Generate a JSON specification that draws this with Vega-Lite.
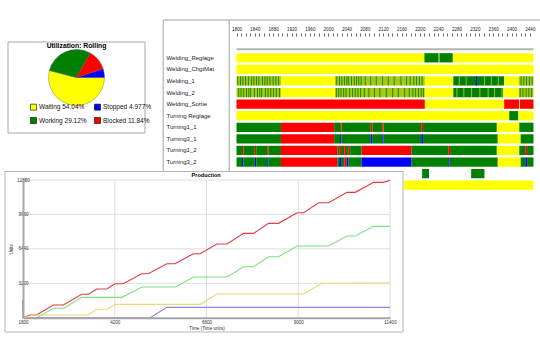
{
"$schema": "https://vega.github.io/schema/vega-lite/v6.json",
"width": 540, "height": 350, "autosize": "none", "padding": 0, "background": "white",
"config": {"view": {"stroke": null}, "font": "Liberation Sans", "axis": {"labelOverlap": false}},
"datasets": {
"pie": [
{"label": "Waiting 54.04%", "share": 54.04, "seq": 4},
{"label": "Stopped 4.977%", "share": 4.977, "seq": 1},
{"label": "Working 29.12%", "share": 29.12, "seq": 3},
{"label": "Blocked 11.84%", "share": 11.84, "seq": 2}
],
"gantt": [
{"row":"Welding_Reglage","state":"Waiting","start":1800,"end":2210},
{"row":"Welding_Reglage","state":"Working","start":2210,"end":2241},
{"row":"Welding_Reglage","state":"Mixed","start":2241,"end":2243},
{"row":"Welding_Reglage","state":"Working","start":2243,"end":2272},
{"row":"Welding_Reglage","state":"Waiting","start":2272,"end":2448},
{"row":"Welding_ChgtMat","state":"Waiting","start":1800,"end":2448},
{"row":"Welding_1","state":"Mixed","start":1800,"end":1897},
{"row":"Welding_1","state":"Waiting","start":1897,"end":2015},
{"row":"Welding_1","state":"Mixed","start":2015,"end":2211},
{"row":"Welding_1","state":"Waiting","start":2211,"end":2273},
{"row":"Welding_1","state":"Working","start":2273,"end":2384},
{"row":"Welding_1","state":"Waiting","start":2384,"end":2416},
{"row":"Welding_1","state":"Mixed","start":2416,"end":2448},
{"row":"Welding_2","state":"Mixed","start":1800,"end":1897},
{"row":"Welding_2","state":"Waiting","start":1897,"end":2015},
{"row":"Welding_2","state":"Mixed","start":2015,"end":2211},
{"row":"Welding_2","state":"Waiting","start":2211,"end":2273},
{"row":"Welding_2","state":"Working","start":2273,"end":2382},
{"row":"Welding_2","state":"Waiting","start":2382,"end":2416},
{"row":"Welding_2","state":"Mixed","start":2416,"end":2448},
{"row":"Welding_Sortie","state":"Blocked","start":1800,"end":2211},
{"row":"Welding_Sortie","state":"Waiting","start":2211,"end":2384},
{"row":"Welding_Sortie","state":"Blocked","start":2384,"end":2417},
{"row":"Welding_Sortie","state":"Waiting","start":2417,"end":2418.5},
{"row":"Welding_Sortie","state":"Blocked","start":2418.5,"end":2448},
{"row":"Turning Reglage","state":"Waiting","start":1800,"end":2395},
{"row":"Turning Reglage","state":"Working","start":2395,"end":2415},
{"row":"Turning Reglage","state":"Waiting","start":2415,"end":2448},
{"row":"Turning1_1","state":"Working","start":1800,"end":1897},
{"row":"Turning1_1","state":"Blocked","start":1897,"end":2013},
{"row":"Turning1_1","state":"Working","start":2013,"end":2026},
{"row":"Turning1_1","state":"Blocked","start":2026,"end":2029},
{"row":"Turning1_1","state":"Working","start":2029,"end":2093},
{"row":"Turning1_1","state":"Blocked","start":2093,"end":2097},
{"row":"Turning1_1","state":"Working","start":2097,"end":2118},
{"row":"Turning1_1","state":"Blocked","start":2118,"end":2121},
{"row":"Turning1_1","state":"Working","start":2121,"end":2203},
{"row":"Turning1_1","state":"Blocked","start":2203,"end":2207},
{"row":"Turning1_1","state":"Working","start":2207,"end":2368},
{"row":"Turning1_1","state":"Waiting","start":2368,"end":2417},
{"row":"Turning1_1","state":"Working","start":2417,"end":2448},
{"row":"Turning3_1","state":"Working","start":1800,"end":1897},
{"row":"Turning3_1","state":"Blocked","start":1897,"end":2013},
{"row":"Turning3_1","state":"Working","start":2013,"end":2026},
{"row":"Turning3_1","state":"Stopped","start":2026,"end":2029},
{"row":"Turning3_1","state":"Working","start":2029,"end":2093},
{"row":"Turning3_1","state":"Stopped","start":2093,"end":2097},
{"row":"Turning3_1","state":"Working","start":2097,"end":2118},
{"row":"Turning3_1","state":"Stopped","start":2118,"end":2121},
{"row":"Turning3_1","state":"Working","start":2121,"end":2203},
{"row":"Turning3_1","state":"Stopped","start":2203,"end":2207},
{"row":"Turning3_1","state":"Working","start":2207,"end":2370},
{"row":"Turning3_1","state":"Waiting","start":2370,"end":2420},
{"row":"Turning3_1","state":"Working","start":2420,"end":2448},
{"row":"Turning1_2","state":"Working","start":1800,"end":1812},
{"row":"Turning1_2","state":"Blocked","start":1812,"end":1815},
{"row":"Turning1_2","state":"Working","start":1815,"end":1840},
{"row":"Turning1_2","state":"Blocked","start":1840,"end":1843},
{"row":"Turning1_2","state":"Working","start":1843,"end":1867},
{"row":"Turning1_2","state":"Blocked","start":1867,"end":1870},
{"row":"Turning1_2","state":"Working","start":1870,"end":1897},
{"row":"Turning1_2","state":"Blocked","start":1897,"end":2020},
{"row":"Turning1_2","state":"Working","start":2020,"end":2024},
{"row":"Turning1_2","state":"Blocked","start":2024,"end":2028},
{"row":"Turning1_2","state":"Working","start":2028,"end":2035},
{"row":"Turning1_2","state":"Blocked","start":2035,"end":2039},
{"row":"Turning1_2","state":"Working","start":2039,"end":2045},
{"row":"Turning1_2","state":"Blocked","start":2045,"end":2048},
{"row":"Turning1_2","state":"Working","start":2048,"end":2073},
{"row":"Turning1_2","state":"Blocked","start":2073,"end":2182},
{"row":"Turning1_2","state":"Working","start":2182,"end":2262},
{"row":"Turning1_2","state":"Blocked","start":2262,"end":2266},
{"row":"Turning1_2","state":"Working","start":2266,"end":2368},
{"row":"Turning1_2","state":"Waiting","start":2368,"end":2417},
{"row":"Turning1_2","state":"Working","start":2417,"end":2430},
{"row":"Turning1_2","state":"Blocked","start":2430,"end":2434},
{"row":"Turning1_2","state":"Working","start":2434,"end":2448},
{"row":"Turning3_2","state":"Working","start":1800,"end":1812},
{"row":"Turning3_2","state":"Stopped","start":1812,"end":1815},
{"row":"Turning3_2","state":"Working","start":1815,"end":1840},
{"row":"Turning3_2","state":"Stopped","start":1840,"end":1843},
{"row":"Turning3_2","state":"Working","start":1843,"end":1867},
{"row":"Turning3_2","state":"Stopped","start":1867,"end":1870},
{"row":"Turning3_2","state":"Working","start":1870,"end":1897},
{"row":"Turning3_2","state":"Blocked","start":1897,"end":2020},
{"row":"Turning3_2","state":"Working","start":2020,"end":2024},
{"row":"Turning3_2","state":"Stopped","start":2024,"end":2028},
{"row":"Turning3_2","state":"Working","start":2028,"end":2035},
{"row":"Turning3_2","state":"Blocked","start":2035,"end":2040},
{"row":"Turning3_2","state":"Stopped","start":2040,"end":2044},
{"row":"Turning3_2","state":"Working","start":2044,"end":2073},
{"row":"Turning3_2","state":"Stopped","start":2073,"end":2182},
{"row":"Turning3_2","state":"Working","start":2182,"end":2262},
{"row":"Turning3_2","state":"Stopped","start":2262,"end":2265},
{"row":"Turning3_2","state":"Working","start":2265,"end":2370},
{"row":"Turning3_2","state":"Waiting","start":2370,"end":2420},
{"row":"Turning3_2","state":"Working","start":2420,"end":2430},
{"row":"Turning3_2","state":"Stopped","start":2430,"end":2434},
{"row":"Turning3_2","state":"Working","start":2434,"end":2448},
{"row":"Turning_Sortie","state":"Working","start":2205,"end":2220},
{"row":"Turning_Sortie","state":"Working","start":2312,"end":2341},
{"row":"Turning_Evac","state":"Waiting","start":2166,"end":2448},
{"row":"Welding_1","state":"Working","start":1802,"end":1803.8},
{"row":"Welding_1","state":"Working","start":1808,"end":1809.8},
{"row":"Welding_1","state":"Working","start":1813,"end":1814.8},
{"row":"Welding_1","state":"Working","start":1819,"end":1820.8},
{"row":"Welding_1","state":"Working","start":1825,"end":1826.8},
{"row":"Welding_1","state":"Working","start":1832,"end":1833.8},
{"row":"Welding_1","state":"Working","start":1837,"end":1838.8},
{"row":"Welding_1","state":"Working","start":1843,"end":1844.8},
{"row":"Welding_1","state":"Working","start":1848,"end":1849.8},
{"row":"Welding_1","state":"Working","start":1856,"end":1857.8},
{"row":"Welding_1","state":"Working","start":1861,"end":1862.8},
{"row":"Welding_1","state":"Working","start":1866,"end":1867.8},
{"row":"Welding_1","state":"Working","start":1872,"end":1873.8},
{"row":"Welding_1","state":"Working","start":1879,"end":1880.8},
{"row":"Welding_1","state":"Working","start":1885,"end":1886.8},
{"row":"Welding_1","state":"Working","start":1891,"end":1892.8},
{"row":"Welding_2","state":"Working","start":1804,"end":1805.8},
{"row":"Welding_2","state":"Working","start":1809,"end":1810.8},
{"row":"Welding_2","state":"Working","start":1815,"end":1816.8},
{"row":"Welding_2","state":"Working","start":1821,"end":1822.8},
{"row":"Welding_2","state":"Working","start":1826,"end":1827.8},
{"row":"Welding_2","state":"Working","start":1830,"end":1831.8},
{"row":"Welding_2","state":"Working","start":1838,"end":1839.8},
{"row":"Welding_2","state":"Working","start":1845,"end":1846.8},
{"row":"Welding_2","state":"Working","start":1850,"end":1851.8},
{"row":"Welding_2","state":"Working","start":1854,"end":1855.8},
{"row":"Welding_2","state":"Working","start":1862,"end":1863.8},
{"row":"Welding_2","state":"Working","start":1868,"end":1869.8},
{"row":"Welding_2","state":"Working","start":1874,"end":1875.8},
{"row":"Welding_2","state":"Working","start":1880,"end":1881.8},
{"row":"Welding_2","state":"Working","start":1886,"end":1887.8},
{"row":"Welding_2","state":"Working","start":1893,"end":1894.8},
{"row":"Welding_1","state":"Working","start":2018,"end":2019.8},
{"row":"Welding_1","state":"Working","start":2024,"end":2025.8},
{"row":"Welding_1","state":"Working","start":2029,"end":2030.8},
{"row":"Welding_1","state":"Working","start":2035,"end":2036.8},
{"row":"Welding_1","state":"Working","start":2040,"end":2041.8},
{"row":"Welding_1","state":"Working","start":2044,"end":2045.8},
{"row":"Welding_1","state":"Working","start":2050,"end":2051.8},
{"row":"Welding_1","state":"Working","start":2056,"end":2057.8},
{"row":"Welding_1","state":"Working","start":2061,"end":2062.8},
{"row":"Welding_1","state":"Working","start":2066,"end":2067.8},
{"row":"Welding_1","state":"Working","start":2071,"end":2072.8},
{"row":"Welding_1","state":"Working","start":2080,"end":2081.8},
{"row":"Welding_1","state":"Working","start":2092,"end":2093.8},
{"row":"Welding_1","state":"Working","start":2104,"end":2105.8},
{"row":"Welding_1","state":"Working","start":2118,"end":2119.8},
{"row":"Welding_1","state":"Working","start":2130,"end":2131.8},
{"row":"Welding_1","state":"Working","start":2143,"end":2144.8},
{"row":"Welding_1","state":"Working","start":2158,"end":2159.8},
{"row":"Welding_1","state":"Working","start":2170,"end":2171.8},
{"row":"Welding_1","state":"Working","start":2178,"end":2179.8},
{"row":"Welding_1","state":"Working","start":2186,"end":2187.8},
{"row":"Welding_1","state":"Working","start":2192,"end":2193.8},
{"row":"Welding_1","state":"Working","start":2198,"end":2199.8},
{"row":"Welding_1","state":"Working","start":2204,"end":2205.8},
{"row":"Welding_2","state":"Working","start":2017,"end":2018.8},
{"row":"Welding_2","state":"Working","start":2022,"end":2023.8},
{"row":"Welding_2","state":"Working","start":2027,"end":2028.8},
{"row":"Welding_2","state":"Working","start":2033,"end":2034.8},
{"row":"Welding_2","state":"Working","start":2038,"end":2039.8},
{"row":"Welding_2","state":"Working","start":2046,"end":2047.8},
{"row":"Welding_2","state":"Working","start":2052,"end":2053.8},
{"row":"Welding_2","state":"Working","start":2058,"end":2059.8},
{"row":"Welding_2","state":"Working","start":2064,"end":2065.8},
{"row":"Welding_2","state":"Working","start":2070,"end":2071.8},
{"row":"Welding_2","state":"Working","start":2078,"end":2079.8},
{"row":"Welding_2","state":"Working","start":2088,"end":2089.8},
{"row":"Welding_2","state":"Working","start":2100,"end":2101.8},
{"row":"Welding_2","state":"Working","start":2112,"end":2113.8},
{"row":"Welding_2","state":"Working","start":2126,"end":2127.8},
{"row":"Welding_2","state":"Working","start":2140,"end":2141.8},
{"row":"Welding_2","state":"Working","start":2152,"end":2153.8},
{"row":"Welding_2","state":"Working","start":2166,"end":2167.8},
{"row":"Welding_2","state":"Working","start":2176,"end":2177.8},
{"row":"Welding_2","state":"Working","start":2184,"end":2185.8},
{"row":"Welding_2","state":"Working","start":2190,"end":2191.8},
{"row":"Welding_2","state":"Working","start":2196,"end":2197.8},
{"row":"Welding_2","state":"Working","start":2202,"end":2203.8},
{"row":"Welding_2","state":"Working","start":2207,"end":2208.8},
{"row":"Welding_1","state":"Mixed","start":2285,"end":2287},
{"row":"Welding_1","state":"Mixed","start":2300,"end":2302},
{"row":"Welding_1","state":"Stopped","start":2322,"end":2325},
{"row":"Welding_1","state":"Mixed","start":2340,"end":2342},
{"row":"Welding_1","state":"Mixed","start":2355,"end":2357},
{"row":"Welding_1","state":"Mixed","start":2370,"end":2372},
{"row":"Welding_2","state":"Mixed","start":2280,"end":2282},
{"row":"Welding_2","state":"Mixed","start":2295,"end":2297},
{"row":"Welding_2","state":"Mixed","start":2312,"end":2314},
{"row":"Welding_2","state":"Mixed","start":2330,"end":2332},
{"row":"Welding_2","state":"Mixed","start":2348,"end":2350},
{"row":"Welding_2","state":"Mixed","start":2362,"end":2364},
{"row":"Welding_2","state":"Mixed","start":2378,"end":2380},
{"row":"Welding_1","state":"Working","start":2420,"end":2421.8},
{"row":"Welding_1","state":"Working","start":2426,"end":2427.8},
{"row":"Welding_1","state":"Working","start":2432,"end":2433.8},
{"row":"Welding_1","state":"Working","start":2438,"end":2439.8},
{"row":"Welding_1","state":"Working","start":2444,"end":2445.8},
{"row":"Welding_2","state":"Working","start":2418,"end":2419.8},
{"row":"Welding_2","state":"Working","start":2424,"end":2425.8},
{"row":"Welding_2","state":"Working","start":2431,"end":2432.8},
{"row":"Welding_2","state":"Working","start":2437,"end":2438.8},
{"row":"Welding_2","state":"Working","start":2443,"end":2444.8}
],
"prod": [
{"series":"A","i":0,"time":1800,"units":1630},
{"series":"A","i":1,"time":1800,"units":0},
{"series":"A","i":2,"time":1991,"units":250},
{"series":"A","i":3,"time":2158,"units":250},
{"series":"A","i":4,"time":2593,"units":1190},
{"series":"A","i":5,"time":2855,"units":1190},
{"series":"A","i":6,"time":3336,"units":2190},
{"series":"A","i":7,"time":3510,"units":2190},
{"series":"A","i":8,"time":3728,"units":2680},
{"series":"A","i":9,"time":3990,"units":2680},
{"series":"A","i":10,"time":4207,"units":3180},
{"series":"A","i":11,"time":4425,"units":3180},
{"series":"A","i":12,"time":4905,"units":4115},
{"series":"A","i":13,"time":5080,"units":4115},
{"series":"A","i":14,"time":5560,"units":5050},
{"series":"A","i":15,"time":5777,"units":5050},
{"series":"A","i":16,"time":6256,"units":5985},
{"series":"A","i":17,"time":6430,"units":5985},
{"series":"A","i":18,"time":6875,"units":6890},
{"series":"A","i":19,"time":7137,"units":6890},
{"series":"A","i":20,"time":7571,"units":7890},
{"series":"A","i":21,"time":7833,"units":7890},
{"series":"A","i":22,"time":8225,"units":8826},
{"series":"A","i":23,"time":8487,"units":8826},
{"series":"A","i":24,"time":8968,"units":9818},
{"series":"A","i":25,"time":9141,"units":9818},
{"series":"A","i":26,"time":9533,"units":10753},
{"series":"A","i":27,"time":9795,"units":10753},
{"series":"A","i":28,"time":10276,"units":11725},
{"series":"A","i":29,"time":10493,"units":11725},
{"series":"A","i":30,"time":10972,"units":12660},
{"series":"A","i":31,"time":11233,"units":12660},
{"series":"A","i":32,"time":11400,"units":12850},
{"series":"B","i":0,"time":1800,"units":0},
{"series":"B","i":1,"time":2166,"units":0},
{"series":"B","i":2,"time":2601,"units":877},
{"series":"B","i":3,"time":2862,"units":877},
{"series":"B","i":4,"time":3343,"units":1905},
{"series":"B","i":5,"time":4390,"units":1905},
{"series":"B","i":6,"time":4913,"units":2870},
{"series":"B","i":7,"time":5784,"units":2870},
{"series":"B","i":8,"time":6263,"units":3805},
{"series":"B","i":9,"time":7137,"units":3805},
{"series":"B","i":10,"time":7571,"units":4770},
{"series":"B","i":11,"time":7833,"units":4770},
{"series":"B","i":12,"time":8225,"units":5705},
{"series":"B","i":13,"time":8487,"units":5705},
{"series":"B","i":14,"time":8968,"units":6705},
{"series":"B","i":15,"time":9795,"units":6705},
{"series":"B","i":16,"time":10276,"units":7640},
{"series":"B","i":17,"time":10493,"units":7640},
{"series":"B","i":18,"time":10972,"units":8545},
{"series":"B","i":19,"time":11400,"units":8545},
{"series":"C","i":0,"time":1800,"units":0},
{"series":"C","i":1,"time":2100,"units":250},
{"series":"C","i":2,"time":3510,"units":250},
{"series":"C","i":3,"time":3728,"units":785},
{"series":"C","i":4,"time":3990,"units":785},
{"series":"C","i":5,"time":4215,"units":1250},
{"series":"C","i":6,"time":6438,"units":1250},
{"series":"C","i":7,"time":6875,"units":2216},
{"series":"C","i":8,"time":9141,"units":2216},
{"series":"C","i":9,"time":9621,"units":3216},
{"series":"C","i":10,"time":11400,"units":3240},
{"series":"D","i":0,"time":2166,"units":0},
{"series":"D","i":1,"time":5130,"units":0},
{"series":"D","i":2,"time":5560,"units":970},
{"series":"D","i":3,"time":11400,"units":970}
]
},
"layer": [
{
"layer": [
{"data": {"values": [{}]}, "mark": {"type": "rect", "fill": "white", "stroke": "#a9a9a9", "strokeWidth": 1},
 "encoding": {
  "x": {"datum": 0, "type": "quantitative", "scale": {"domain": [0, 100], "range": [8, 145], "nice": false, "zero": false}, "axis": null},
  "x2": {"datum": 100},
  "y": {"datum": 0, "type": "quantitative", "scale": {"domain": [0, 100], "range": [42, 133], "nice": false, "zero": false}, "axis": null},
  "y2": {"datum": 100}}},
{"data": {"values": [{}]}, "mark": {"type": "text", "text": "Utilization: Rolling", "fontWeight": "bold", "fontSize": 6.8, "color": "#000"},
 "encoding": {
  "x": {"datum": 50, "type": "quantitative"},
  "y": {"datum": 4.6, "type": "quantitative"}}},
{"data": {"name": "pie"}, "mark": {"type": "arc", "outerRadius": 28, "stroke": "#555555", "strokeWidth": 0.4},
 "encoding": {
  "theta": {"field": "share", "type": "quantitative", "stack": true, "scale": {"range": [1.5708, -4.7124]}},
  "order": {"field": "seq", "type": "quantitative"},
  "color": {"field": "label", "type": "nominal",
   "scale": {"domain": ["Waiting 54.04%", "Working 29.12%", "Stopped 4.977%", "Blocked 11.84%"], "range": ["#ffff00", "#008000", "#0000ff", "#ff0000"]},
   "legend": {"orient": "none", "legendX": 30, "legendY": 103.5, "columns": 2, "direction": "vertical", "title": null, "symbolType": "square", "symbolSize": 36, "symbolStrokeColor": "#000000", "symbolStrokeWidth": 0.6, "labelFontSize": 6.5, "labelColor": "#111111", "labelOffset": 2, "rowPadding": 4.5, "columnPadding": 6}},
  "x": {"datum": 50, "type": "quantitative"},
  "y": {"datum": 39, "type": "quantitative"}}}
]
},
{
"layer": [
{"data": {"name": "gantt"}, "mark": {"type": "rect"},
 "encoding": {
  "x": {"field": "start", "type": "quantitative", "scale": {"domain": [1800, 2448], "range": [236.5, 533.5], "nice": false, "zero": false},
   "axis": {"orient": "top", "offset": -36, "title": null, "format": "d", "domain": false, "grid": false, "tickCount": 80, "tickSize": 3, "tickColor": "#444444", "tickWidth": 0.8, "labelFontSize": 4.6, "labelPadding": 2, "labelColor": "#222222", "labelOverlap": false, "labelFlush": false, "labelBound": false, "labelSeparation": 0,
    "labelExpr": "datum.value % 40 === 0 ? datum.label : ''",
    "values": [1800,1810,1820,1830,1840,1850,1860,1870,1880,1890,1900,1910,1920,1930,1940,1950,1960,1970,1980,1990,2000,2010,2020,2030,2040,2050,2060,2070,2080,2090,2100,2110,2120,2130,2140,2150,2160,2170,2180,2190,2200,2210,2220,2230,2240,2250,2260,2270,2280,2290,2300,2310,2320,2330,2340,2350,2360,2370,2380,2390,2400,2410,2420,2430,2440]}},
  "x2": {"field": "end"},
  "y": {"field": "row", "type": "nominal",
   "scale": {"domain": ["Welding_Reglage","Welding_ChgtMat","Welding_1","Welding_2","Welding_Sortie","Turning Reglage","Turning1_1","Turning3_1","Turning1_2","Turning3_2","Turning_Sortie","Turning_Evac"], "range": [52, 191], "paddingInner": 0.2, "paddingOuter": 0.1},
   "axis": {"orient": "left", "offset": -166, "title": null, "domain": false, "ticks": false, "tickSize": 0, "labelAlign": "left", "labelPadding": 0, "labelFontSize": 6, "labelColor": "#222222",
    "labelExpr": "indexof(['Turning_Sortie', 'Turning_Evac'], datum.value) >= 0 ? '' : datum.label"}},
  "color": {"field": "state", "type": "nominal",
   "scale": {"domain": ["Waiting", "Working", "Blocked", "Stopped", "Mixed"], "range": ["#ffff00", "#008000", "#ff0000", "#0000ff", "#a8c814"]},
   "legend": null}}},
{"layer": [
 {"data": {"values": [{}]}, "mark": {"type": "rule", "color": "#a0a0a0", "strokeWidth": 1},
  "encoding": {"x": {"datum": 1640, "type": "quantitative"}, "x2": {"datum": 2600},
   "y": {"datum": 0, "type": "quantitative", "scale": {"domain": [0, 1], "range": [20, 172], "nice": false, "zero": false}, "axis": null}}},
 {"data": {"values": [{}]}, "mark": {"type": "rule", "color": "#a0a0a0", "strokeWidth": 1},
  "encoding": {"x": {"datum": 1640, "type": "quantitative"},
   "y": {"datum": 0, "type": "quantitative"}, "y2": {"datum": 1}}},
 {"data": {"values": [{}]}, "mark": {"type": "rule", "color": "#a0a0a0", "strokeWidth": 1},
  "encoding": {"x": {"datum": 1784, "type": "quantitative"},
   "y": {"datum": 0, "type": "quantitative"}, "y2": {"datum": 1}}},
 {"data": {"values": [{}]}, "mark": {"type": "rule", "color": "#b4b4b4", "strokeWidth": 2},
  "encoding": {"x": {"datum": 1800, "type": "quantitative"}, "x2": {"datum": 2448},
   "y": {"datum": 0.192, "type": "quantitative"}}}
]}
],
"resolve": {"scale": {"y": "independent"}, "axis": {"y": "independent"}}
},
{
"layer": [
{"data": {"values": [{}]}, "mark": {"type": "rect", "fill": "white", "stroke": "#b5b5b5", "strokeWidth": 1},
 "encoding": {
  "x": {"datum": 1329, "type": "quantitative", "scale": {"domain": [1800, 11400], "range": [23, 390], "nice": false, "zero": false},
   "axis": {"orient": "bottom", "offset": -32.3, "values": [1800, 4200, 6600, 9000, 11400], "format": "d", "grid": false, "domainColor": "#a5a5a5", "domainWidth": 2, "ticks": false, "tickSize": 0, "labelFontSize": 4.6, "labelPadding": 2, "labelColor": "#333333", "labelFlush": false, "labelOverlap": false, "title": "Time (Time units)", "titleFontSize": 4.6, "titleFontWeight": "normal", "titleColor": "#333333", "titlePadding": 1, "zindex": 1}},
  "x2": {"datum": 11741},
  "y": {"datum": 13673, "type": "quantitative", "scale": {"domain": [0, 12880], "range": [317.7, 180], "nice": false, "zero": false},
   "axis": {"orient": "left", "offset": -23, "values": [3220, 6440, 9660, 12880], "format": "d", "grid": false, "domainColor": "#a5a5a5", "domainWidth": 2, "ticks": false, "tickSize": 0, "labelFontSize": 4.6, "labelAlign": "center", "labelPadding": 0, "labelColor": "#333333", "labelOverlap": false, "title": "Units", "titleFontSize": 4.6, "titleFontWeight": "normal", "titleColor": "#333333", "titlePadding": 3, "zindex": 1}},
  "y2": {"datum": -1337}}},
{"data": {"values": [{"tick": 4200}, {"tick": 6600}, {"tick": 9000}, {"tick": 11400}]}, "mark": {"type": "rule", "color": "#dedede", "strokeWidth": 1},
 "encoding": {"x": {"field": "tick", "type": "quantitative"}, "y": {"datum": 0, "type": "quantitative"}, "y2": {"datum": 12880}}},
{"data": {"values": [{"tick": 3220}, {"tick": 6440}, {"tick": 9660}, {"tick": 12880}]}, "mark": {"type": "rule", "color": "#dedede", "strokeWidth": 1},
 "encoding": {"y": {"field": "tick", "type": "quantitative"}, "x": {"datum": 1800, "type": "quantitative"}, "x2": {"datum": 11400}}},
{"data": {"values": [{}]}, "mark": {"type": "text", "text": "Production", "fontWeight": "bold", "fontSize": 5.5, "color": "#000"},
 "encoding": {"x": {"datum": 6590, "type": "quantitative"}, "y": {"datum": 13301, "type": "quantitative"}}},
{"data": {"name": "prod"}, "mark": {"type": "line", "strokeWidth": 1.1},
 "encoding": {
  "x": {"field": "time", "type": "quantitative"},
  "y": {"field": "units", "type": "quantitative"},
  "order": {"field": "i", "type": "quantitative"},
  "color": {"field": "series", "type": "nominal", "scale": {"domain": ["A", "B", "C", "D"], "range": ["#e43a3f", "#7ee07e", "#f0d676", "#8a86e6"]}, "legend": null}}}
]
}
],
"resolve": {"scale": {"x": "independent", "y": "independent", "color": "independent"}, "axis": {"x": "independent", "y": "independent"}, "legend": {"color": "independent"}}
}
